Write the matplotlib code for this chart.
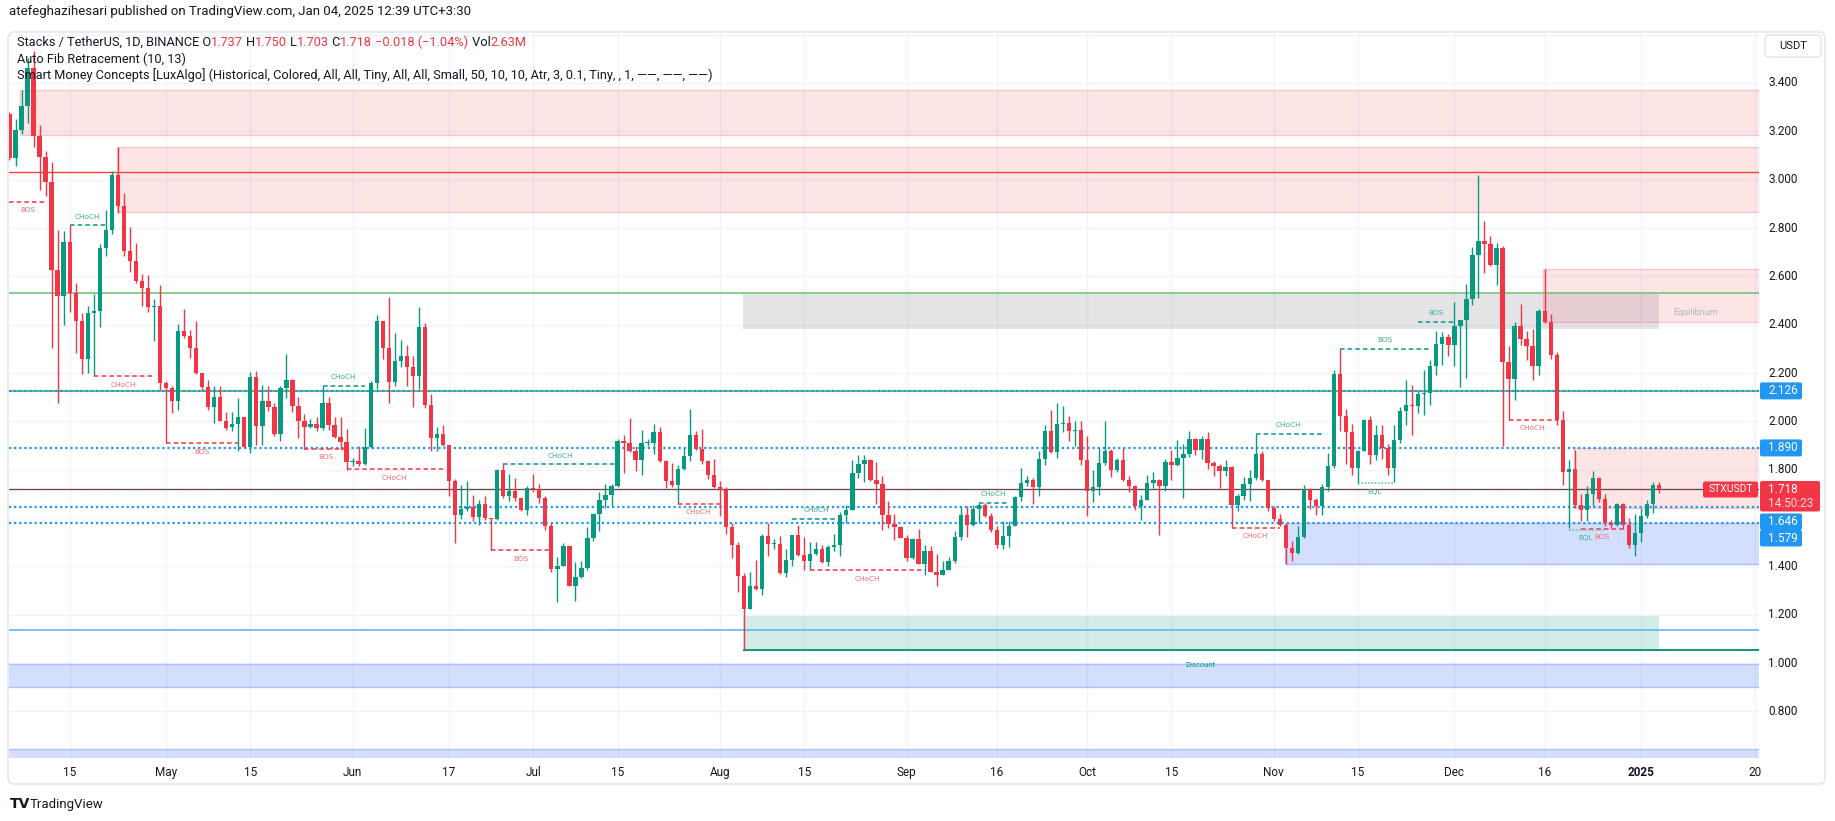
import numpy as np
import pandas as pd
import matplotlib
matplotlib.use('Agg')
import matplotlib.pyplot as plt
from matplotlib.patches import Rectangle, FancyBboxPatch
from matplotlib.transforms import IdentityTransform, blended_transform_factory

plt.rcParams['font.family'] = ['Roboto', 'DejaVu Sans']

W, H = 1835, 821
GREEN = '#089981'
RED = '#f23645'
BLUE = '#2196f3'
TXT = '#131722'

# ---------------- data: STX/USDT daily, 2024-04-05 .. 2025-01-04 ----------------
first_day = '2024-04-05'

opens = [
    3.27, 3.09, 3.207, 3.306, 3.462, 3.179, 3.094, 2.989, 2.628, 2.52, 2.743,
    2.531, 2.414, 2.259, 2.448, 2.455, 2.717, 2.793, 3.021, 2.89, 2.703, 2.662,
    2.579, 2.55, 2.472, 2.476, 2.159, 2.14, 2.083, 2.375, 2.354, 2.303, 2.20,
    2.141, 2.058, 2.10, 2.003, 1.975, 1.99, 2.018, 1.894, 2.183, 1.979, 2.083,
    2.058, 1.949, 2.138, 2.172, 2.062, 2.00, 1.975, 1.99, 1.972, 2.076, 1.986,
    1.937, 1.914, 1.83, 1.837, 1.823, 1.892, 2.157, 2.414, 2.303, 2.164, 2.248,
    2.269, 2.226, 2.189, 2.389, 2.069, 1.93, 1.948, 1.903, 1.754, 1.614, 1.637,
    1.647, 1.605, 1.657, 1.598, 1.596, 1.80, 1.692, 1.712, 1.681, 1.634, 1.723,
    1.719, 1.681, 1.568, 1.389, 1.403, 1.486, 1.32, 1.357, 1.392, 1.517, 1.617,
    1.674, 1.695, 1.731, 1.917, 1.909, 1.879, 1.841, 1.909, 1.911, 1.954, 1.837,
    1.752, 1.738, 1.804, 1.858, 1.945, 1.887, 1.834, 1.779, 1.727, 1.717, 1.561,
    1.49, 1.359, 1.225, 1.32, 1.308, 1.524, 1.492, 1.494, 1.372, 1.428, 1.528,
    1.445, 1.421, 1.452, 1.473, 1.417, 1.479, 1.487, 1.614, 1.634, 1.788, 1.825,
    1.839, 1.759, 1.742, 1.614, 1.577, 1.561, 1.518, 1.436, 1.514, 1.41, 1.464,
    1.376, 1.363, 1.386, 1.421, 1.52, 1.614, 1.572, 1.639, 1.652, 1.607, 1.552,
    1.487, 1.527, 1.568, 1.687, 1.745, 1.759, 1.727, 1.844, 1.961, 1.872, 1.99,
    1.992, 1.959, 1.963, 1.839, 1.71, 1.728, 1.828, 1.879, 1.80, 1.841, 1.756,
    1.731, 1.651, 1.676, 1.745, 1.759, 1.731, 1.832, 1.818, 1.848, 1.866, 1.927,
    1.88, 1.927, 1.828, 1.814, 1.793, 1.811, 1.652, 1.692, 1.741, 1.766, 1.865,
    1.756, 1.641, 1.596, 1.572, 1.476, 1.455, 1.521, 1.72, 1.676, 1.651, 1.728,
    1.814, 2.197, 2.021, 1.955, 1.807, 1.879, 2.007, 1.862, 1.945, 1.89, 1.807,
    1.924, 2.044, 2.069, 2.062, 2.113, 2.117, 2.23, 2.32, 2.348, 2.317, 2.393,
    2.421, 2.508, 2.69, 2.747, 2.735, 2.648, 2.717, 2.245, 2.177, 2.396, 2.342,
    2.313, 2.228, 2.458, 2.411, 2.276, 2.007, 1.789, 1.803, 1.652, 1.634, 1.70,
    1.766, 1.679, 1.579, 1.57, 1.659, 1.57, 1.487, 1.538, 1.61, 1.659, 1.737,
]
highs = [
    3.28, 3.25, 3.372, 3.503, 3.531, 3.228, 3.12, 3.073, 2.793, 2.789, 2.812,
    2.572, 2.448, 2.476, 2.528, 2.735, 2.873, 3.037, 3.137, 2.945, 2.804, 2.74,
    2.61, 2.607, 2.506, 2.565, 2.165, 2.145, 2.404, 2.466, 2.379, 2.414, 2.20,
    2.172, 2.145, 2.145, 2.04, 2.04, 2.096, 2.02, 2.204, 2.21, 2.152, 2.145,
    2.076, 2.145, 2.28, 2.176, 2.10, 2.03, 2.01, 2.02, 2.145, 2.10, 2.02,
    2.019, 1.968, 1.85, 1.896, 1.972, 2.168, 2.441, 2.414, 2.513, 2.365, 2.337,
    2.316, 2.269, 2.473, 2.407, 2.113, 1.978, 1.985, 1.903, 1.761, 1.737, 1.754,
    1.695, 1.675, 1.69, 1.60, 1.803, 1.823, 1.782, 1.764, 1.683, 1.733, 1.782,
    1.74, 1.692, 1.578, 1.44, 1.496, 1.486, 1.417, 1.423, 1.564, 1.62, 1.706,
    1.74, 1.74, 1.927, 1.943, 2.014, 1.896, 1.965, 1.927, 1.989, 1.978, 1.841,
    1.828, 1.821, 1.89, 2.052, 1.959, 1.97, 1.841, 1.845, 1.752, 1.73, 1.579,
    1.50, 1.372, 1.375, 1.428, 1.535, 1.579, 1.513, 1.524, 1.472, 1.531, 1.57,
    1.52, 1.50, 1.50, 1.49, 1.49, 1.535, 1.623, 1.655, 1.841, 1.862, 1.862,
    1.845, 1.832, 1.772, 1.671, 1.617, 1.565, 1.531, 1.517, 1.555, 1.487, 1.483,
    1.451, 1.423, 1.437, 1.545, 1.651, 1.648, 1.655, 1.662, 1.662, 1.62, 1.566,
    1.586, 1.586, 1.69, 1.807, 1.772, 1.766, 1.876, 1.986, 2.048, 2.076, 2.065,
    2.023, 2.00, 2.00, 1.941, 1.80, 1.89, 2.003, 1.887, 1.848, 1.89, 1.775,
    1.738, 1.697, 1.779, 1.789, 1.762, 1.844, 1.883, 1.924, 1.908, 1.961, 1.93,
    1.938, 1.955, 1.834, 1.823, 1.841, 1.814, 1.70, 1.768, 1.80, 1.948, 1.876,
    1.759, 1.648, 1.617, 1.579, 1.503, 1.568, 1.738, 1.724, 1.683, 1.741, 1.869,
    2.211, 2.30, 2.052, 1.99, 1.88, 2.01, 2.023, 1.986, 1.986, 1.906, 1.983,
    2.058, 2.172, 2.152, 2.124, 2.214, 2.252, 2.372, 2.368, 2.36, 2.494, 2.421,
    2.568, 2.721, 3.021, 2.828, 2.768, 2.738, 2.724, 2.31, 2.41, 2.487, 2.372,
    2.383, 2.466, 2.632, 2.445, 2.285, 2.041, 1.841, 1.883, 1.70, 1.731, 1.793,
    1.769, 1.70, 1.593, 1.662, 1.662, 1.60, 1.617, 1.641, 1.676, 1.749, 1.75,
]
lows = [
    3.08, 3.058, 3.19, 3.234, 3.134, 2.959, 2.931, 2.303, 2.076, 2.40, 2.451,
    2.283, 2.196, 2.20, 2.186, 2.39, 2.686, 2.777, 2.862, 2.683, 2.62, 2.572,
    2.476, 2.452, 2.331, 2.131, 1.91, 2.034, 2.046, 2.345, 2.262, 2.196, 2.131,
    2.048, 1.993, 2.00, 1.963, 1.96, 1.876, 1.89, 1.869, 1.903, 1.903, 2.044,
    1.938, 1.917, 2.096, 2.037, 1.93, 1.885, 1.972, 1.96, 1.965, 1.965, 1.93,
    1.883, 1.80, 1.816, 1.816, 1.82, 1.89, 2.134, 2.26, 2.074, 2.148, 2.223,
    2.145, 2.058, 2.134, 2.054, 1.876, 1.876, 1.899, 1.69, 1.495, 1.596, 1.63,
    1.588, 1.57, 1.592, 1.467, 1.592, 1.681, 1.672, 1.672, 1.63, 1.614, 1.706,
    1.661, 1.551, 1.378, 1.251, 1.40, 1.317, 1.258, 1.353, 1.385, 1.506, 1.545,
    1.64, 1.651, 1.728, 1.785, 1.872, 1.793, 1.779, 1.899, 1.865, 1.833, 1.726,
    1.727, 1.659, 1.80, 1.834, 1.883, 1.825, 1.763, 1.724, 1.607, 1.535, 1.434,
    1.293, 1.21, 1.222, 1.304, 1.283, 1.441, 1.472, 1.369, 1.354, 1.40, 1.441,
    1.386, 1.386, 1.445, 1.414, 1.40, 1.462, 1.444, 1.579, 1.632, 1.766, 1.748,
    1.755, 1.659, 1.552, 1.558, 1.51, 1.517, 1.421, 1.432, 1.41, 1.363, 1.375,
    1.317, 1.363, 1.383, 1.414, 1.508, 1.521, 1.569, 1.579, 1.603, 1.541, 1.476,
    1.473, 1.48, 1.566, 1.669, 1.731, 1.659, 1.69, 1.818, 1.869, 1.848, 1.955,
    1.917, 1.897, 1.818, 1.607, 1.665, 1.697, 1.821, 1.768, 1.79, 1.752, 1.706,
    1.634, 1.593, 1.673, 1.724, 1.531, 1.71, 1.759, 1.817, 1.683, 1.852, 1.862,
    1.845, 1.804, 1.772, 1.724, 1.772, 1.561, 1.628, 1.673, 1.669, 1.759, 1.752,
    1.631, 1.586, 1.566, 1.41, 1.421, 1.452, 1.519, 1.639, 1.611, 1.614, 1.711,
    1.806, 1.959, 1.823, 1.777, 1.74, 1.876, 1.823, 1.841, 1.844, 1.776, 1.748,
    1.91, 1.983, 1.945, 2.034, 2.027, 2.069, 2.19, 2.235, 2.272, 2.228, 2.141,
    2.179, 2.48, 2.51, 2.614, 2.641, 2.563, 1.90, 2.007, 2.087, 2.317, 2.252,
    2.17, 2.193, 2.407, 2.26, 1.986, 1.735, 1.56, 1.641, 1.586, 1.586, 1.648,
    1.666, 1.566, 1.559, 1.566, 1.556, 1.476, 1.441, 1.50, 1.60, 1.621, 1.703,
]
closes = [
    3.09, 3.207, 3.306, 3.462, 3.179, 3.094, 2.989, 2.628, 2.52, 2.743, 2.531,
    2.414, 2.259, 2.448, 2.455, 2.717, 2.793, 3.021, 2.89, 2.703, 2.662, 2.579,
    2.55, 2.472, 2.476, 2.159, 2.14, 2.083, 2.375, 2.354, 2.303, 2.20, 2.141,
    2.058, 2.10, 2.003, 1.972, 1.99, 2.018, 1.894, 2.183, 1.979, 2.083, 2.058,
    1.949, 2.138, 2.172, 2.062, 2.00, 1.975, 1.99, 1.972, 2.076, 1.986, 1.937,
    1.914, 1.83, 1.837, 1.823, 1.892, 2.157, 2.414, 2.303, 2.164, 2.248, 2.269,
    2.226, 2.189, 2.389, 2.069, 1.93, 1.948, 1.903, 1.754, 1.614, 1.637, 1.647,
    1.605, 1.657, 1.598, 1.596, 1.80, 1.692, 1.712, 1.681, 1.634, 1.723, 1.719,
    1.681, 1.568, 1.389, 1.403, 1.486, 1.32, 1.357, 1.392, 1.517, 1.617, 1.674,
    1.695, 1.731, 1.917, 1.909, 1.879, 1.841, 1.909, 1.911, 1.954, 1.837, 1.752,
    1.738, 1.804, 1.858, 1.945, 1.887, 1.834, 1.779, 1.727, 1.717, 1.561, 1.49,
    1.359, 1.225, 1.32, 1.308, 1.524, 1.492, 1.494, 1.372, 1.428, 1.528, 1.445,
    1.421, 1.452, 1.473, 1.417, 1.479, 1.487, 1.614, 1.634, 1.788, 1.825, 1.839,
    1.759, 1.742, 1.614, 1.577, 1.561, 1.518, 1.436, 1.514, 1.41, 1.464, 1.376,
    1.363, 1.386, 1.421, 1.52, 1.614, 1.572, 1.639, 1.652, 1.607, 1.552, 1.487,
    1.527, 1.568, 1.687, 1.745, 1.759, 1.727, 1.844, 1.961, 1.872, 1.99, 1.992,
    1.959, 1.963, 1.839, 1.71, 1.728, 1.828, 1.879, 1.80, 1.841, 1.756, 1.731,
    1.651, 1.676, 1.745, 1.759, 1.731, 1.832, 1.818, 1.848, 1.866, 1.927, 1.88,
    1.927, 1.828, 1.814, 1.793, 1.811, 1.652, 1.692, 1.741, 1.766, 1.865, 1.756,
    1.641, 1.596, 1.572, 1.476, 1.455, 1.521, 1.72, 1.676, 1.651, 1.728, 1.814,
    2.197, 2.021, 1.955, 1.807, 1.879, 2.007, 1.862, 1.945, 1.89, 1.807, 1.924,
    2.044, 2.069, 2.062, 2.113, 2.117, 2.23, 2.32, 2.348, 2.317, 2.393, 2.421,
    2.508, 2.69, 2.747, 2.735, 2.648, 2.717, 2.245, 2.177, 2.396, 2.342, 2.313,
    2.228, 2.458, 2.411, 2.276, 2.007, 1.789, 1.803, 1.652, 1.634, 1.70, 1.766,
    1.679, 1.579, 1.57, 1.659, 1.57, 1.487, 1.538, 1.61, 1.659, 1.737, 1.718,
]

tick_dates = ['2024-04-15', '2024-05-01', '2024-05-15', '2024-06-01', '2024-06-17',
              '2024-07-01', '2024-07-15', '2024-08-01', '2024-08-15', '2024-09-01',
              '2024-09-16', '2024-10-01', '2024-10-15', '2024-11-01', '2024-11-15',
              '2024-12-01', '2024-12-16', '2025-01-01', '2025-01-20']
tick_labels = ['15', 'May', '15', 'Jun', '17', 'Jul', '15', 'Aug', '15', 'Sep',
               '16', 'Oct', '15', 'Nov', '15', 'Dec', '16', '2025', '20']
price_ticks = [3.4, 3.2, 3.0, 2.8, 2.6, 2.4, 2.2, 2.0, 1.8, 1.4, 1.2, 1.0, 0.8]

# market structure breaks (label, from, to, level, side)
structure = [
    ('BOS', '2024-04-05', '2024-04-11', 2.908, 'bear'),
    ('CHoCH', '2024-04-15', '2024-04-21', 2.812, 'bull'),
    ('CHoCH', '2024-04-19', '2024-04-29', 2.186, 'bear'),
    ('BOS', '2024-05-01', '2024-05-13', 1.910, 'bear'),
    ('BOS', '2024-05-24', '2024-05-31', 1.887, 'bear'),
    ('CHoCH', '2024-05-27', '2024-06-03', 2.147, 'bull'),
    ('CHoCH', '2024-05-31', '2024-06-16', 1.801, 'bear'),
    ('BOS', '2024-06-24', '2024-07-04', 1.467, 'bear'),
    ('CHoCH', '2024-06-26', '2024-07-15', 1.823, 'bull'),
    ('CHoCH', '2024-07-25', '2024-08-01', 1.659, 'bear'),
    ('CHoCH', '2024-08-13', '2024-08-21', 1.596, 'bull'),
    ('CHoCH', '2024-08-16', '2024-09-04', 1.385, 'bear'),
    ('CHoCH', '2024-09-13', '2024-09-18', 1.662, 'bull'),
    ('CHoCH', '2024-10-25', '2024-11-02', 1.559, 'bear'),
    ('CHoCH', '2024-10-29', '2024-11-09', 1.949, 'bull'),
    ('BOS', '2024-11-12', '2024-11-27', 2.300, 'bull'),
    ('BOS', '2024-11-25', '2024-12-01', 2.411, 'bull'),
    ('CHoCH', '2024-12-10', '2024-12-18', 2.007, 'bear'),
    ('BOS', '2024-12-22', '2024-12-29', 1.556, 'bear'),
]
equal_lows = [('2024-11-15', '2024-11-21', 1.745), ('2024-12-20', '2024-12-26', 1.552)]

# order blocks / premium-discount boxes (from, to or None = open, low, high, kind)
zones = [
    ('2024-04-07', None, 3.183, 3.372, 'supply'),
    ('2024-04-23', None, 2.865, 3.135, 'supply'),
    ('2024-08-05', '2025-01-04', 2.383, 2.527, 'equilibrium'),
    ('2024-12-16', None, 2.410, 2.632, 'supply'),
    ('2024-12-21', None, 1.641, 1.891, 'supply'),
    ('2024-11-03', None, 1.410, 1.579, 'demand'),
    ('2024-08-05', '2025-01-04', 1.053, 1.196, 'discount'),
    (None, None, 0.902, 0.998, 'demand'),
    (None, None, 0.50, 0.643, 'demand'),
]

fib_red = 3.030
fib_green = 2.530
fib_blue = 1.136
discount_floor = 1.053
dotted_levels = [2.126, 1.890, 1.646, 1.579]
last_price = 1.718
countdown = '14:50:23'

# ---------------- figure ----------------
day0 = pd.Timestamp(first_day)


def idx(d):
    return (pd.Timestamp(d) - day0).days


fig = plt.figure(figsize=(W / 100, H / 100), dpi=100)
fig.patch.set_facecolor('white')

L, R, T, B = 9, 1759, 32, 758
ax = fig.add_axes([L / W, 1 - B / H, (R - L) / W, (B - T) / H])
ax.set_facecolor('white')
X0, X1 = -0.08, 290.6
ax.set_xlim(X0, X1)
ax.set_ylim(0.607, 3.611)
for s in ax.spines.values():
    s.set_visible(False)
ax.set_xticks([])
ax.set_yticks([])

# grid
for d in tick_dates:
    ax.axvline(idx(d), color='#f0f3fa', lw=1, zorder=0)
for p in np.arange(0.6, 3.61, 0.2):
    ax.axhline(p, color='#f0f3fa', lw=1, zorder=0)

# zones
for start, end, lo, hi, kind in zones:
    xa = X0 - 1 if start is None else idx(start) - 0.2
    xb = X1 + 1 if end is None else idx(end)
    if kind == 'supply':
        fc, ec = (0.949, 0.212, 0.271, 0.13), (0.949, 0.212, 0.271, 0.22)
    elif kind == 'equilibrium':
        fc, ec = (0.47, 0.48, 0.53, 0.2), 'none'
    elif kind == 'discount':
        fc, ec = (0.031, 0.6, 0.506, 0.18), 'none'
    else:
        fc, ec = (0.16, 0.38, 1.0, 0.2), (0.16, 0.38, 1.0, 0.3)
    ax.add_patch(Rectangle((xa, lo), xb - xa, hi - lo, fc=fc, ec=ec, lw=1, zorder=1))

# fib / level lines
ax.axhline(fib_red, color='#f44336', lw=1, zorder=2)
ax.axhline(fib_green, color='#81c784', lw=1.3, zorder=2)
ax.axhline(dotted_levels[0], color='#4caf50', lw=1.2, zorder=2)
ax.axhline(fib_blue, color='#64b5f6', lw=1.2, zorder=2)
ax.plot([idx('2024-08-05'), X1 + 1], [discount_floor] * 2, color=GREEN, lw=1.4, zorder=2)
ax.plot([idx('2024-08-05')] * 2, [lows[idx('2024-08-05')], discount_floor], color=RED, lw=1, zorder=2)
for p in dotted_levels:
    ax.axhline(p, color=BLUE, lw=1.6, ls=(0, (1, 1.3)), zorder=2.2)
ax.axhline(last_price, color='#3a4a4f', lw=0.9, zorder=2.1)
ax.axhline(last_price, color=RED, lw=0.9, ls=(0, (1, 2.5)), zorder=2.2)

# candles
x = np.arange(len(closes))
o, h, lo_, c = map(np.array, (opens, highs, lows, closes))
col = np.where(c >= o, GREEN, RED)
ax.vlines(x, lo_, h, colors=col, lw=1, zorder=3)
ax.bar(x, np.maximum(np.abs(c - o), 0.004), bottom=np.minimum(o, c), width=0.72,
       color=col, linewidth=0, zorder=3.1)

# structure
for label, a, b, lvl, side in structure:
    lc = GREEN if side == 'bull' else RED
    tc = '#3fae98' if side == 'bull' else '#f26d78'
    ax.plot([idx(a), idx(b)], [lvl, lvl], color=lc, lw=1.1, ls=(0, (3, 2)), zorder=4)
    ax.annotate(label, ((idx(a) + idx(b)) / 2, lvl), xytext=(0, 4 if side == 'bull' else -4),
                textcoords='offset points', ha='center', va='bottom' if side == 'bull' else 'top',
                fontsize=5.3, color=tc, zorder=5, family='DejaVu Sans')
for a, b, lvl in equal_lows:
    ax.plot([idx(a), idx(b)], [lvl, lvl], color='#6cc5b3', lw=1.2, ls=(0, (1, 1)), zorder=4.1)
    ax.annotate('EQL', ((idx(a) + idx(b)) / 2 - 0.3, lvl), xytext=(0, -4), textcoords='offset points',
                ha='center', va='top', fontsize=5.3, color='#3fae98', zorder=5, family='DejaVu Sans')

ax.text(280, 2.45, 'Equilibrium', ha='center', va='center', fontsize=6.5, color='#b2b5be', zorder=5)
ax.text(197.8, 0.992, 'Discount', ha='center', va='center', fontsize=5.5, color=GREEN, zorder=5)

# ---------------- axes labels ----------------
ytr = blended_transform_factory(fig.transFigure, ax.transData)
for p in price_ticks:
    fig.text(1768 / W, p, f'{p:.3f}', transform=ytr, ha='left', va='center',
             fontsize=8.5, color=TXT)
xtr = blended_transform_factory(ax.transData, fig.transFigure)
for d, lab in zip(tick_dates, tick_labels):
    fig.text(idx(d), 1 - 772 / H, lab, transform=xtr, ha='center', va='center', fontsize=8.5,
             color=TXT, fontweight='bold' if lab == '2025' else 'normal')


def box(x0, y0, x1, y1, color, ec='none', r=2):
    p = FancyBboxPatch((x0, H - y1), x1 - x0, y1 - y0,
                       boxstyle=f'round,pad=0,rounding_size={r}', fc=color, ec=ec, lw=1,
                       transform=IdentityTransform())
    fig.add_artist(p)


def ptext(xp, yp, s, **kw):
    fig.text(xp / W, 1 - yp / H, s, **kw)


def ypx(p):
    return H - ax.transData.transform((0, p))[1]


# frame
box(8, T, 1825, 784, 'none', ec='#e0e3eb', r=6)
box(1765, 35, 1821, 57, 'white', ec='#e0e3eb', r=4)
ptext(1793, 46, 'USDT', ha='center', va='center', fontsize=8, color=TXT)

# price tags
for p in dotted_levels[:2]:
    yc = ypx(p)
    box(1760, yc - 8.5, 1802, yc + 8.5, BLUE)
    ptext(1768, yc, f'{p:.3f}', ha='left', va='center', fontsize=8.5, color='white')
yc = ypx(last_price)
box(1760, yc - 8.5, 1820, yc + 22, RED)
ptext(1768, yc, f'{last_price:.3f}', ha='left', va='center', fontsize=8.5, color='white')
ptext(1768, yc + 14.5, countdown, ha='left', va='center', fontsize=8.5, color='#fcdde0')
box(1703, yc - 8, 1758, yc + 8, RED)
ptext(1730.5, yc, 'STXUSDT', ha='center', va='center', fontsize=7.5, color='white')
ytag = yc + 24
for p in dotted_levels[2:]:
    box(1760, ytag, 1802, ytag + 16.5, BLUE)
    ptext(1768, ytag + 8.3, f'{p:.3f}', ha='left', va='center', fontsize=8.5, color='white')
    ytag += 16.5

# ---------------- header / legend ----------------
ptext(9, 12, 'atefeghazihesari published on TradingView.com, Jan 04, 2025 12:39 UTC+3:30',
      ha='left', va='center', fontsize=9.5, color=TXT)

renderer = fig.canvas.get_renderer()


def seq_text(xp, yp, parts, size=9.2):
    for s, colr in parts:
        t = fig.text(xp / W, 1 - yp / H, s, ha='left', va='center', fontsize=size, color=colr, zorder=10)
        xp += t.get_window_extent(renderer).width


seq_text(17, 42, [('Stacks / TetherUS, 1D, BINANCE O', TXT), ('1.737', RED), (' H', TXT),
                  ('1.750', RED), (' L', TXT), ('1.703', RED), (' C', TXT), ('1.718', RED),
                  (' \u22120.018 (\u22121.04%)', RED), (' Vol', TXT), ('2.63M', RED)])
ptext(17, 59, 'Auto Fib Retracement (10, 13)', ha='left', va='center', fontsize=9.2, color=TXT, zorder=10)
ptext(17, 75, 'Smart Money Concepts [LuxAlgo] (Historical, Colored, All, All, Tiny, All, All, '
      'Small, 50, 10, 10, Atr, 3, 0.1, Tiny, , 1, \u2014\u2014, \u2014\u2014, \u2014\u2014)',
      ha='left', va='center', fontsize=9.2, color=TXT, zorder=10)

# footer logo
ptext(10, 804, 'TV', ha='left', va='center', fontsize=10, fontweight='bold', color=TXT,
      family='DejaVu Sans')
ptext(30, 804, 'TradingView', ha='left', va='center', fontsize=9.5, color=TXT)

fig.savefig('out.png', dpi=100, facecolor='white')
